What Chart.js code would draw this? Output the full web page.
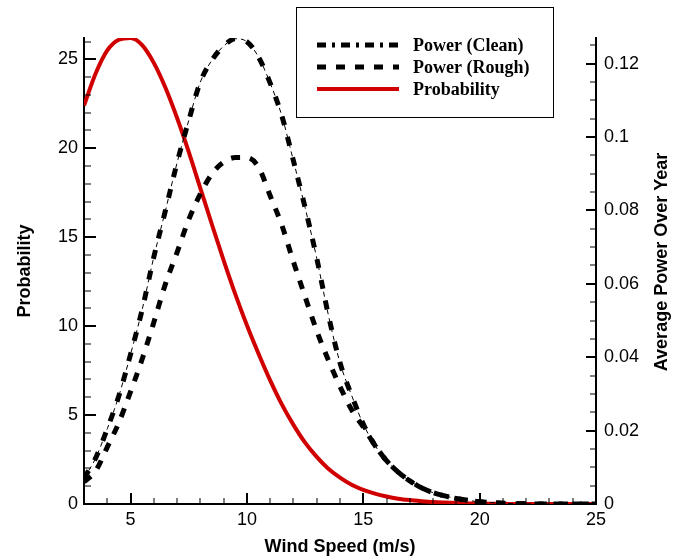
<!DOCTYPE html>
<html>
<head>
<meta charset="utf-8">
<script src="https://cdn.jsdelivr.net/npm/chart.js@4/dist/chart.umd.min.js"></script>
<style>
  html, body { margin: 0; padding: 0; background: #fff; }
  canvas { display: block; }
</style>
</head>
<body>
<canvas id="windChart" width="678" height="558"></canvas>
<script>
// wind speed samples (m/s)
const windSpeed = [3, 3.5, 4, 4.5, 5, 5.5, 6, 6.5, 7, 7.5, 8, 8.5, 9, 9.5, 10, 10.5, 11, 11.5, 12, 12.5,
    13, 13.5, 14, 14.5, 15, 15.5, 16, 16.5, 17, 17.5, 18, 18.5, 19, 19.5, 20, 20.5, 21, 21.5, 22, 22.5,
    23, 23.5, 24, 24.5, 25];

const probability = [22.4, 24.2, 25.5, 26.1, 26.2, 25.8, 24.8, 23.4, 21.7, 19.8, 17.75, 15.7, 13.7, 11.8, 10.05,
    8.45, 6.95, 5.6, 4.45, 3.45, 2.65, 1.98, 1.48, 1.08, 0.79, 0.58, 0.42, 0.3, 0.22, 0.16, 0.11, 0.08, 0.055, 0.035,
    0.022, 0.014, 0.009, 0.006, 0.004, 0.002, 0.001, 0.001, 0, 0, 0];

const powerClean = [0.007, 0.0125, 0.0205, 0.0295, 0.0408, 0.053, 0.0673, 0.080, 0.093, 0.1045, 0.115,
    0.121, 0.1248, 0.1268, 0.126, 0.1218, 0.1147, 0.1058, 0.0935, 0.0808, 0.067, 0.0515, 0.0385, 0.0296, 0.0218,
    0.016, 0.0118, 0.0087, 0.0063, 0.0044, 0.0031, 0.0022, 0.0015, 0.001, 0.0006, 0.0004, 0.0002, 0.0001,
    0.00005, 0, 0, 0, 0, 0, 0];

const powerRough = [0.006, 0.009, 0.0155, 0.0222, 0.0306, 0.0395, 0.0495, 0.060, 0.0686, 0.0775, 0.0845,
    0.090, 0.0932, 0.0944, 0.0944, 0.0918, 0.084, 0.076, 0.066, 0.0565, 0.0472, 0.0392, 0.032, 0.0257, 0.021,
    0.016, 0.0118, 0.0087, 0.0063, 0.0044, 0.0031, 0.0022, 0.0015, 0.001, 0.0006, 0.0004, 0.0002, 0.0001,
    0.00005, 0, 0, 0, 0, 0, 0];

const xTicks = [5, 10, 15, 20, 25];
const probTicks = [0, 5, 10, 15, 20, 25];
const powerTicks = [0, 0.02, 0.04, 0.06, 0.08, 0.1, 0.12];

const toPoints = ys => ys.map((y, i) => ({ x: windSpeed[i], y: y }));

const tickFont = { family: 'Liberation Sans, Arial, sans-serif', size: 18 };
const titleFont = { family: 'Liberation Sans, Arial, sans-serif', size: 18, weight: 'bold' };

// inward ticks, right axis title and the boxed legend
const decorations = {
    id: 'decorations',
    afterDraw(chart) {
        const ctx = chart.ctx;
        const area = chart.chartArea;
        const x = chart.scales.x, yL = chart.scales.yProb, yR = chart.scales.yPower;
        ctx.save();
        ctx.strokeStyle = '#000';

        const tick = (x1, y1, x2, y2, w) => {
            ctx.lineWidth = w;
            ctx.beginPath();
            ctx.moveTo(x1, y1);
            ctx.lineTo(x2, y2);
            ctx.stroke();
        };

        for (let v = 3; v <= 25; v++) {
            const px = Math.round(x.getPixelForValue(v));
            const major = v % 5 === 0;
            tick(px, area.bottom, px, area.bottom - (major ? 11 : 6), major ? 2 : 1);
        }
        for (let v = 0; v <= 26; v++) {
            const py = Math.round(yL.getPixelForValue(v));
            const major = v % 5 === 0;
            tick(area.left, py, area.left + (major ? 12 : 7), py, major ? 2 : 1);
        }
        for (let k = 0; k <= 25; k++) {
            const py = Math.round(yR.getPixelForValue(k * 0.005));
            const major = k % 4 === 0;
            tick(area.right, py, area.right - (major ? 10 : 6), py, major ? 2 : 1);
        }

        // right axis title, reading bottom to top
        ctx.fillStyle = '#000';
        ctx.font = 'bold 18px "Liberation Sans", Arial, sans-serif';
        ctx.textAlign = 'center';
        ctx.textBaseline = 'middle';
        ctx.translate(662, 262);
        ctx.rotate(-Math.PI / 2);
        ctx.fillText('Average Power Over Year', 0, 0);
        ctx.setTransform(1, 0, 0, 1, 0, 0);

        // legend
        ctx.lineWidth = 1;
        ctx.strokeRect(296.5, 7.5, 257, 110);
        const rows = [45, 67, 89];
        const samples = [
            { ds: chart.data.datasets[0], thin: chart.data.datasets[1] },
            { ds: chart.data.datasets[2] },
            { ds: chart.data.datasets[3] }
        ];
        ctx.font = 'bold 18px "Liberation Serif", "Times New Roman", serif';
        ctx.textAlign = 'left';
        samples.forEach((s, i) => {
            const y = rows[i];
            ctx.strokeStyle = s.ds.borderColor;
            ctx.lineWidth = s.ds.borderWidth;
            ctx.setLineDash(s.thin ? [9, 6, 3, 6] : (s.ds.borderDash || []));
            ctx.beginPath();
            ctx.moveTo(317, y);
            ctx.lineTo(399, y);
            ctx.stroke();
            ctx.setLineDash([]);
            ctx.fillText(s.ds.label, 413, y + 1);
        });
        ctx.restore();
    }
};

new Chart(document.getElementById('windChart').getContext('2d'), {
    type: 'line',
    data: {
        datasets: [
            {
                label: 'Power (Clean)',
                data: toPoints(powerClean),
                yAxisID: 'yPower',
                borderColor: '#000',
                borderWidth: 5,
                borderDash: [9, 12],
                pointRadius: 0,
                cubicInterpolationMode: 'monotone'
            },
            {
                label: 'clean-thin',
                data: toPoints(powerClean),
                yAxisID: 'yPower',
                borderColor: '#000',
                borderWidth: 1,
                borderDash: [5, 4],
                pointRadius: 0,
                cubicInterpolationMode: 'monotone'
            },
            {
                label: 'Power (Rough)',
                data: toPoints(powerRough),
                yAxisID: 'yPower',
                borderColor: '#000',
                borderWidth: 5,
                borderDash: [9, 10],
                pointRadius: 0,
                cubicInterpolationMode: 'monotone'
            },
            {
                label: 'Probability',
                data: toPoints(probability),
                yAxisID: 'yProb',
                borderColor: '#d00000',
                borderWidth: 4,
                pointRadius: 0,
                cubicInterpolationMode: 'monotone'
            }
        ]
    },
    options: {
        responsive: false,
        animation: false,
        devicePixelRatio: 1,
        layout: { padding: { top: 38 } },
        plugins: { legend: { display: false }, tooltip: { enabled: false } },
        scales: {
            x: {
                type: 'linear',
                min: 3,
                max: 25,
                afterBuildTicks: s => { s.ticks = xTicks.map(v => ({ value: v })); },
                afterFit: s => { s.height = 54; },
                grid: { display: false, drawTicks: false },
                border: { display: true, color: '#000', width: 2 },
                ticks: { color: '#000', font: tickFont, padding: 5, maxRotation: 0 },
                title: { display: true, text: 'Wind Speed (m/s)', color: '#000', font: titleFont, padding: 0 }
            },
            yProb: {
                type: 'linear',
                position: 'left',
                min: 0,
                max: 26.2,
                afterBuildTicks: s => { s.ticks = probTicks.map(v => ({ value: v })); },
                afterFit: s => { s.width = 84; },
                grid: { display: false, drawTicks: false },
                border: { display: true, color: '#000', width: 2 },
                ticks: { color: '#000', font: tickFont, padding: 6 },
                title: { display: true, text: 'Probability', color: '#000', font: titleFont, padding: { top: 14, bottom: 0 } }
            },
            yPower: {
                type: 'linear',
                position: 'right',
                min: 0,
                max: 0.127,
                afterBuildTicks: s => { s.ticks = powerTicks.map(v => ({ value: v })); },
                afterFit: s => { s.width = 82; },
                grid: { display: false, drawTicks: false },
                border: { display: true, color: '#000', width: 2 },
                ticks: { color: '#000', font: tickFont, padding: 8, callback: v => String(+v.toFixed(3)) }
            }
        }
    },
    plugins: [decorations]
});
</script>
</body>
</html>
